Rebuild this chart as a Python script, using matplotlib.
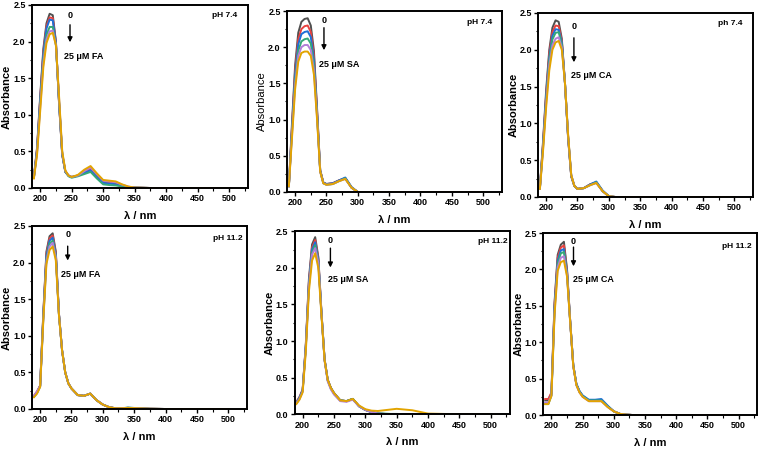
import matplotlib
matplotlib.use("Agg")
import matplotlib.pyplot as plt
from matplotlib.ticker import MultipleLocator

plt.rcParams['font.family'] = ['Liberation Sans', 'DejaVu Sans']

# --- data (wavelength grid shared by all spectra) ---
WL = [190, 195, 200, 205, 210, 215, 220, 225, 230, 235, 240, 245, 250,
      260, 270, 280, 290, 300, 310, 320, 330, 340, 350, 375, 400, 450, 500]

# rows: 0, 5, 10, 15, 20, 25 uM of the acid
FA_74 = [
    [0.15, 0.55, 1.25, 1.90, 2.25, 2.38, 2.36, 2.00, 1.15, 0.45, 0.22, 0.17, 0.15, 0.17, 0.21, 0.25, 0.16, 0.08, 0.07, 0.06, 0.03, 0.01, 0.005, 0, 0, 0, 0],
    [0.15, 0.53, 1.22, 1.86, 2.21, 2.33, 2.32, 1.99, 1.16, 0.46, 0.22, 0.17, 0.15, 0.17, 0.22, 0.26, 0.17, 0.08, 0.07, 0.06, 0.03, 0.01, 0.005, 0, 0, 0, 0],
    [0.14, 0.52, 1.20, 1.83, 2.18, 2.30, 2.29, 1.98, 1.17, 0.46, 0.22, 0.17, 0.15, 0.17, 0.21, 0.24, 0.15, 0.07, 0.06, 0.05, 0.03, 0.01, 0.005, 0, 0, 0, 0],
    [0.14, 0.50, 1.15, 1.76, 2.09, 2.20, 2.20, 1.95, 1.18, 0.47, 0.22, 0.16, 0.14, 0.16, 0.19, 0.22, 0.13, 0.05, 0.04, 0.035, 0.02, 0.01, 0.005, 0, 0, 0, 0],
    [0.14, 0.48, 1.10, 1.71, 2.03, 2.14, 2.15, 1.95, 1.22, 0.48, 0.23, 0.17, 0.15, 0.17, 0.23, 0.28, 0.19, 0.10, 0.09, 0.08, 0.045, 0.02, 0.005, 0, 0, 0, 0],
    [0.13, 0.45, 1.05, 1.65, 1.98, 2.10, 2.12, 1.95, 1.25, 0.50, 0.24, 0.17, 0.15, 0.18, 0.25, 0.30, 0.20, 0.11, 0.10, 0.09, 0.05, 0.02, 0.005, 0, 0, 0, 0],
]
SA_74 = [
    [0.08, 0.95, 1.75, 2.20, 2.35, 2.39, 2.40, 2.30, 1.95, 1.15, 0.30, 0.13, 0.11, 0.12, 0.16, 0.19, 0.06, 0, 0, 0, 0, 0, 0, 0, 0, 0, 0],
    [0.08, 0.90, 1.68, 2.11, 2.25, 2.29, 2.30, 2.21, 1.88, 1.12, 0.30, 0.13, 0.11, 0.12, 0.16, 0.19, 0.06, 0, 0, 0, 0, 0, 0, 0, 0, 0, 0],
    [0.08, 0.87, 1.62, 2.04, 2.18, 2.21, 2.22, 2.14, 1.82, 1.09, 0.29, 0.13, 0.11, 0.12, 0.16, 0.20, 0.07, 0, 0, 0, 0, 0, 0, 0, 0, 0, 0],
    [0.08, 0.83, 1.55, 1.95, 2.08, 2.11, 2.12, 2.05, 1.75, 1.06, 0.29, 0.12, 0.10, 0.11, 0.15, 0.19, 0.06, 0, 0, 0, 0, 0, 0, 0, 0, 0, 0],
    [0.08, 0.79, 1.48, 1.88, 2.00, 2.03, 2.03, 1.96, 1.68, 1.03, 0.28, 0.12, 0.10, 0.11, 0.15, 0.18, 0.06, 0, 0, 0, 0, 0, 0, 0, 0, 0, 0],
    [0.08, 0.75, 1.42, 1.80, 1.92, 1.94, 1.94, 1.88, 1.62, 1.00, 0.28, 0.12, 0.10, 0.11, 0.15, 0.18, 0.06, 0, 0, 0, 0, 0, 0, 0, 0, 0, 0],
]
CA_74 = [
    [0.12, 0.75, 1.45, 2.00, 2.30, 2.40, 2.38, 2.15, 1.55, 0.80, 0.28, 0.15, 0.11, 0.12, 0.17, 0.20, 0.08, 0.01, 0, 0, 0, 0, 0, 0, 0, 0, 0],
    [0.12, 0.72, 1.40, 1.95, 2.24, 2.33, 2.32, 2.12, 1.55, 0.81, 0.28, 0.15, 0.11, 0.12, 0.17, 0.20, 0.08, 0.01, 0, 0, 0, 0, 0, 0, 0, 0, 0],
    [0.12, 0.70, 1.37, 1.90, 2.19, 2.28, 2.27, 2.10, 1.55, 0.82, 0.29, 0.15, 0.11, 0.12, 0.17, 0.21, 0.09, 0.01, 0, 0, 0, 0, 0, 0, 0, 0, 0],
    [0.11, 0.68, 1.33, 1.86, 2.14, 2.23, 2.24, 2.07, 1.55, 0.83, 0.29, 0.15, 0.11, 0.12, 0.16, 0.20, 0.08, 0.01, 0, 0, 0, 0, 0, 0, 0, 0, 0],
    [0.11, 0.65, 1.28, 1.79, 2.06, 2.15, 2.17, 2.03, 1.55, 0.84, 0.30, 0.15, 0.11, 0.12, 0.16, 0.19, 0.08, 0.01, 0, 0, 0, 0, 0, 0, 0, 0, 0],
    [0.11, 0.62, 1.22, 1.72, 2.00, 2.10, 2.12, 2.00, 1.55, 0.85, 0.30, 0.15, 0.11, 0.12, 0.16, 0.19, 0.08, 0.01, 0, 0, 0, 0, 0, 0, 0, 0, 0],
]
FA_112 = [
    [0.17, 0.22, 0.32, 1.30, 2.15, 2.36, 2.40, 2.15, 1.30, 0.80, 0.50, 0.35, 0.28, 0.19, 0.18, 0.21, 0.12, 0.06, 0.025, 0.01, 0.01, 0.015, 0.012, 0.003, 0, 0, 0],
    [0.18, 0.24, 0.32, 1.28, 2.12, 2.33, 2.37, 2.13, 1.30, 0.80, 0.50, 0.35, 0.28, 0.19, 0.18, 0.21, 0.12, 0.06, 0.025, 0.01, 0.01, 0.015, 0.012, 0.003, 0, 0, 0],
    [0.17, 0.23, 0.31, 1.26, 2.09, 2.30, 2.34, 2.11, 1.30, 0.80, 0.50, 0.35, 0.28, 0.19, 0.18, 0.21, 0.12, 0.06, 0.025, 0.01, 0.01, 0.018, 0.014, 0.003, 0, 0, 0],
    [0.17, 0.22, 0.31, 1.24, 2.05, 2.26, 2.30, 2.09, 1.29, 0.80, 0.50, 0.35, 0.28, 0.19, 0.18, 0.21, 0.12, 0.06, 0.025, 0.01, 0.01, 0.018, 0.014, 0.003, 0, 0, 0],
    [0.18, 0.24, 0.31, 1.22, 2.02, 2.22, 2.27, 2.07, 1.29, 0.80, 0.50, 0.35, 0.28, 0.19, 0.18, 0.21, 0.12, 0.06, 0.025, 0.01, 0.01, 0.015, 0.012, 0.003, 0, 0, 0],
    [0.16, 0.21, 0.30, 1.20, 1.98, 2.17, 2.22, 2.03, 1.28, 0.80, 0.50, 0.35, 0.28, 0.19, 0.18, 0.21, 0.12, 0.06, 0.025, 0.01, 0.01, 0.015, 0.012, 0.003, 0, 0, 0],
]
SA_112 = [
    [0.15, 0.22, 0.33, 0.95, 1.85, 2.32, 2.42, 2.15, 1.40, 0.75, 0.47, 0.36, 0.29, 0.19, 0.18, 0.21, 0.11, 0.06, 0.03, 0.01, 0.005, 0, 0, 0, 0, 0, 0],
    [0.17, 0.24, 0.34, 0.93, 1.81, 2.28, 2.38, 2.13, 1.39, 0.75, 0.47, 0.36, 0.29, 0.19, 0.18, 0.21, 0.11, 0.06, 0.03, 0.01, 0.005, 0, 0, 0, 0, 0, 0],
    [0.16, 0.23, 0.33, 0.92, 1.79, 2.25, 2.35, 2.11, 1.38, 0.75, 0.47, 0.36, 0.29, 0.19, 0.18, 0.21, 0.11, 0.06, 0.03, 0.01, 0.005, 0, 0, 0, 0, 0, 0],
    [0.15, 0.22, 0.32, 0.91, 1.76, 2.21, 2.31, 2.09, 1.38, 0.74, 0.46, 0.35, 0.28, 0.19, 0.18, 0.21, 0.11, 0.06, 0.03, 0.015, 0.01, 0.005, 0.005, 0, 0, 0, 0],
    [0.15, 0.21, 0.31, 0.90, 1.74, 2.18, 2.27, 2.07, 1.37, 0.73, 0.45, 0.34, 0.27, 0.18, 0.17, 0.20, 0.11, 0.06, 0.03, 0.01, 0.005, 0, 0, 0, 0, 0, 0],
    [0.14, 0.20, 0.30, 0.85, 1.68, 2.10, 2.20, 2.00, 1.35, 0.74, 0.47, 0.36, 0.29, 0.19, 0.18, 0.21, 0.12, 0.07, 0.05, 0.045, 0.055, 0.065, 0.075, 0.055, 0.01, 0, 0],
]
CA_112 = [
    [0.20, 0.20, 0.30, 1.55, 2.20, 2.34, 2.38, 2.00, 1.30, 0.68, 0.42, 0.32, 0.26, 0.20, 0.20, 0.20, 0.12, 0.05, 0.015, 0.005, 0, 0, 0, 0, 0, 0, 0],
    [0.22, 0.22, 0.31, 1.52, 2.16, 2.30, 2.33, 1.98, 1.30, 0.68, 0.42, 0.32, 0.26, 0.20, 0.20, 0.20, 0.12, 0.05, 0.015, 0.005, 0, 0, 0, 0, 0, 0, 0],
    [0.16, 0.16, 0.28, 1.48, 2.12, 2.26, 2.28, 1.96, 1.29, 0.69, 0.43, 0.33, 0.27, 0.21, 0.21, 0.22, 0.13, 0.05, 0.015, 0.005, 0, 0, 0, 0, 0, 0, 0],
    [0.15, 0.15, 0.27, 1.45, 2.08, 2.22, 2.24, 1.94, 1.29, 0.68, 0.42, 0.32, 0.26, 0.20, 0.20, 0.20, 0.12, 0.05, 0.015, 0.005, 0, 0, 0, 0, 0, 0, 0],
    [0.17, 0.17, 0.27, 1.42, 2.03, 2.16, 2.18, 1.92, 1.28, 0.67, 0.41, 0.31, 0.25, 0.19, 0.19, 0.19, 0.11, 0.05, 0.015, 0.005, 0, 0, 0, 0, 0, 0, 0],
    [0.15, 0.15, 0.26, 1.38, 1.98, 2.10, 2.12, 1.90, 1.28, 0.67, 0.41, 0.31, 0.25, 0.19, 0.19, 0.19, 0.11, 0.05, 0.015, 0.005, 0, 0, 0, 0, 0, 0, 0],
]

COLORS = ['#505050', '#E8423F', '#1F6FD6', '#35A878', '#B37ED8', '#E2A400']

# panel setup: data, pH label, end label, axes rect, annotation spots (axes fraction)
PANELS = [
    dict(data=FA_74, ph='pH 7.4', end='25 μM FA', rect=[0.0421, 0.5813, 0.2842, 0.4076],
         zero=(0.176, 0.945), arr=(0.907, 0.781), txt=(0.148, 0.721), phpos=(0.949, 0.945)),
    dict(data=SA_74, ph='pH 7.4', end='25 μM SA', rect=[0.3776, 0.5724, 0.2829, 0.4031],
         zero=(0.172, 0.950), arr=(0.923, 0.768), txt=(0.149, 0.702), phpos=(0.953, 0.934)),
    dict(data=CA_74, ph='ph 7.4', end='25 μM CA', rect=[0.7079, 0.5613, 0.2829, 0.4098],
         zero=(0.167, 0.926), arr=(0.880, 0.717), txt=(0.152, 0.659), phpos=(0.950, 0.944)),
    dict(data=FA_112, ph='pH 11.2', end='25 μM FA', rect=[0.0421, 0.0891, 0.2829, 0.4076],
         zero=(0.166, 0.951), arr=(0.905, 0.796), txt=(0.133, 0.736), phpos=(0.980, 0.933)),
    dict(data=SA_112, ph='pH 11.2', end='25 μM SA', rect=[0.3875, 0.0773, 0.2829, 0.4076],
         zero=(0.167, 0.951), arr=(0.923, 0.787), txt=(0.158, 0.738), phpos=(0.990, 0.942)),
    dict(data=CA_112, ph='pH 11.2', end='25 μM CA', rect=[0.7149, 0.0757, 0.2816, 0.4053],
         zero=(0.141, 0.956), arr=(0.938, 0.802), txt=(0.138, 0.742), phpos=(0.975, 0.925)),
]

fig = plt.figure(figsize=(7.6, 4.49), dpi=100)

for i, p in enumerate(PANELS):
    ax = fig.add_axes(p['rect'])
    for row, c in zip(p['data'], COLORS):
        ax.plot(WL, row, color=c, lw=1.4)

    ax.set_xlim(187, 530)
    ax.set_ylim(0, 2.5)
    ax.xaxis.set_major_locator(MultipleLocator(50))
    ax.xaxis.set_minor_locator(MultipleLocator(25))
    ax.yaxis.set_major_locator(MultipleLocator(0.5))
    ax.yaxis.set_minor_locator(MultipleLocator(0.25))
    ax.tick_params(which='major', direction='out', length=3, width=1, labelsize=6.5, pad=1.5)
    ax.tick_params(which='minor', direction='out', length=1.8, width=0.8)
    for lab in ax.get_xticklabels() + ax.get_yticklabels():
        lab.set_fontweight('bold')
    for sp in ax.spines.values():
        sp.set_linewidth(1.4)

    ylw = 'normal' if i == 1 else 'bold'
    ax.set_ylabel('Absorbance', fontsize=8, fontweight=ylw)
    ax.yaxis.set_label_coords(-0.092, 0.5)
    ax.set_xlabel('λ / nm', fontsize=8, fontweight='bold')
    ax.xaxis.set_label_coords(0.5, -0.125)

    ax.text(*p['phpos'], p['ph'], transform=ax.transAxes, ha='right', va='center',
            fontsize=6, fontweight='bold')
    ax.text(*p['zero'], '0', transform=ax.transAxes, ha='center', va='center',
            fontsize=6.5, fontweight='bold')
    ax.annotate('', xy=(p['zero'][0], p['arr'][1]), xytext=(p['zero'][0], p['arr'][0]),
                xycoords='axes fraction', textcoords='axes fraction',
                arrowprops=dict(arrowstyle='-|>', color='black', lw=1.0, mutation_scale=7))
    ax.text(*p['txt'], p['end'], transform=ax.transAxes, ha='left', va='center',
            fontsize=6.5, fontweight='bold')

plt.savefig('out.png', dpi=100)
